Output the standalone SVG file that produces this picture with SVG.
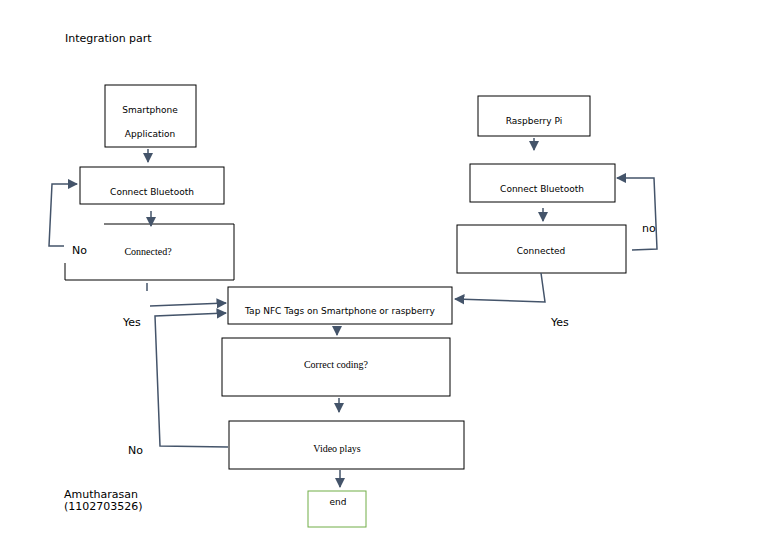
<svg xmlns="http://www.w3.org/2000/svg" width="768" height="543" viewBox="0 0 768 543">
<defs>
<style>
.b{fill:#fff;stroke:#000;stroke-width:1}
.s{font-family:"DejaVu Sans",sans-serif;font-size:9px;fill:#000;text-anchor:middle}
.r{font-family:"Liberation Serif",serif;font-size:10px;fill:#000;text-anchor:middle}
.l{font-family:"DejaVu Sans",sans-serif;font-size:11px;fill:#000}
.c{fill:none;stroke:#44546a;stroke-width:1.5}
</style>
<marker id="a" viewBox="0 0 10 10" refX="9" refY="5" markerWidth="7" markerHeight="7" orient="auto"><path d="M0,0L10,5L0,10z" fill="#44546a"/></marker>
</defs>
<rect width="768" height="543" fill="#fff"/>
<text x="65" y="42" class="l" font-size="10">Integration part</text>
<g id="smartphone"><rect class="b" x="105" y="85" width="91" height="62"/><text x="150" y="113" class="s" font-size="8">Smartphone</text><text x="150" y="137" class="s" font-size="8">Application</text></g>
<g id="bt-left"><rect class="b" x="80" y="167" width="144" height="37"/><text x="152" y="195" class="s" font-size="8">Connect Bluetooth</text></g>
<g id="connected-left"><path d="M104,224H234V280H65V263" fill="none" stroke="#000"/><text x="148" y="255" class="r">Connected?</text></g>
<g id="tap"><rect class="b" x="228" y="287" width="224" height="37"/><text x="340" y="314" class="s" font-size="8.5">Tap NFC Tags on Smartphone or raspberry</text></g>
<g id="coding"><rect class="b" x="222" y="338" width="228" height="58"/><text x="336" y="368" class="r">Correct coding?</text></g>
<g id="video"><rect class="b" x="229" y="421" width="235" height="48"/><text x="337" y="452" class="r">Video plays</text></g>
<g id="end"><rect x="308" y="491" width="58" height="36" fill="#fff" stroke="#70ad47"/><text x="338" y="505" class="s">end</text></g>
<g id="rpi"><rect class="b" x="478" y="96" width="112" height="40"/><text x="534" y="124" class="s" font-size="8">Raspberry Pi</text></g>
<g id="bt-right"><rect class="b" x="470" y="164" width="145" height="38"/><text x="542" y="192" class="s" font-size="8">Connect Bluetooth</text></g>
<g id="connected-right"><rect class="b" x="457" y="225" width="169" height="48"/><text x="541" y="254" class="s" font-size="8">Connected</text></g>
<g id="connectors">
<path class="c" d="M148,149V162" marker-end="url(#a)"/>
<path class="c" d="M151,211V226" marker-end="url(#a)"/>
<path class="c" d="M64,246H49L52,184H77" marker-end="url(#a)"/>
<path d="M147,283V291" stroke="#44546a" stroke-width="1.5"/>
<path class="c" d="M150,306L226,303" marker-end="url(#a)"/>
<path class="c" d="M337,326V335" marker-end="url(#a)"/>
<path class="c" d="M339,398V412" marker-end="url(#a)"/>
<path class="c" d="M228,447L160,446L155,316L226,313" marker-end="url(#a)"/>
<path class="c" d="M340,470V487" marker-end="url(#a)"/>
<path class="c" d="M534,138V150" marker-end="url(#a)"/>
<path class="c" d="M543,208V221" marker-end="url(#a)"/>
<path class="c" d="M632,250L657,249L654,178H617" marker-end="url(#a)"/>
<path class="c" d="M541,273L545,302L455,299" marker-end="url(#a)"/>
</g>
<text x="72" y="254" class="l" font-size="12">No</text>
<text x="123" y="326" class="l" font-size="12">Yes</text>
<text x="128" y="454" class="l" font-size="12">No</text>
<text x="551" y="326" class="l" font-size="12">Yes</text>
<text x="642" y="232" class="l" font-size="10">no</text>
<text x="64" y="498" class="l" font-size="10">Amutharasan</text>
<text x="64" y="510" class="l" font-size="10">(1102703526)</text>
</svg>
